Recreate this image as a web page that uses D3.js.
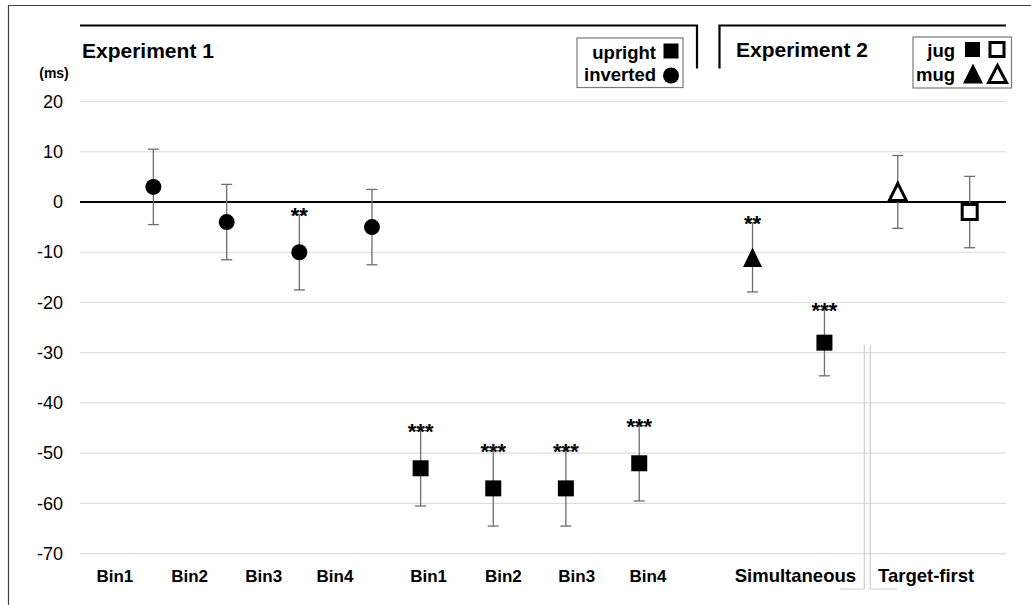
<!DOCTYPE html>
<html>
<head>
<meta charset="utf-8">
<script src="https://cdn.jsdelivr.net/npm/d3@7"></script>
<style>
  body { margin: 0; background: #fff; }
  svg { display: block; font-family: "Liberation Sans", Arial, sans-serif; }
</style>
</head>
<body>
<svg id="lienzo" width="1031" height="605"></svg>
<script>
// Datos (ms)
const yTicks = [20, 10, 0, -10, -20, -30, -40, -50, -60, -70];

// Experimento 1
const binLabels = ['Bin1', 'Bin2', 'Bin3', 'Bin4'];
const invertedX = [1.01, 2.02, 3.02, 4.02];
const invertedMean = [3, -4, -10, -5];
const invertedErr = [7.5, 7.5, 7.5, 7.5];
const invertedSig = ['', '', '**', ''];

const uprightX = [4.69, 5.69, 6.69, 7.70];
const uprightMean = [-53, -57, -57, -52];
const uprightErr = [7.5, 7.5, 7.5, 7.5];
const uprightSig = ['***', '***', '***', '***'];

const exp1LabelX = [0.48, 1.51, 2.53, 3.51, 4.80, 5.83, 6.84, 7.82];

// Experimento 2
const exp2Labels = ['Simultaneous', 'Target-first'];
const exp2LabelX = [9.85, 11.65];
const mugX = [9.26, 11.26];
const mugMean = [-11, 2];
const mugErr = [6.9, 7.25];
const mugSig = ['**', ''];
const jugX = [10.25, 12.25];
const jugMean = [-28, -2];
const jugErr = [6.6, 7.1];
const jugSig = ['***', ''];

const svg = d3.select('#lienzo');

const x = d3.scaleLinear().domain([0, 12.75]).range([80, 1006]);
const y = d3.scaleLinear().domain([-70, 20]).range([553.7, 101.5]);

// marco exterior (recortado a la derecha y abajo)
svg.append('path')
    .attr('d', 'M8.5,605 L8.5,5.5 L1031,5.5')
    .attr('fill', 'none')
    .attr('stroke', '#404040')
    .attr('stroke-width', 1.2);

// lineas de la cuadricula
svg.append('g')
    .selectAll('line')
    .data(yTicks.filter(d => d !== 0))
    .enter()
    .append('line')
    .attr('x1', x.range()[0])
    .attr('x2', x.range()[1])
    .attr('y1', d => y(d))
    .attr('y2', d => y(d))
    .attr('stroke', '#dcdcdc')
    .attr('stroke-width', 1.2);

// eje y con d3.axisLeft, sin linea de dominio
const yAxis = svg.append('g')
    .attr('transform', 'translate(80,0)')
    .call(d3.axisLeft(y).tickValues(yTicks).tickSize(0).tickPadding(17)
        .tickFormat(d => String(d))); // guion normal, como en el original
yAxis.select('.domain').remove();
yAxis.selectAll('text')
    .attr('font-family', '"Liberation Sans", Arial, sans-serif')
    .attr('font-size', '18px')
    .attr('fill', '#000');

svg.append('text')
    .attr('x', 54)
    .attr('y', 78)
    .attr('text-anchor', 'middle')
    .attr('font-size', '14px')
    .attr('font-weight', 'bold')
    .text('(ms)');

// linea del cero
svg.append('line')
    .attr('x1', x.range()[0])
    .attr('x2', x.range()[1])
    .attr('y1', y(0))
    .attr('y2', y(0))
    .attr('stroke', '#000')
    .attr('stroke-width', 2.2);

// lineas grises sueltas cerca de Target-first
const ghost = svg.append('g')
    .attr('fill', 'none')
    .attr('stroke', '#d0d0d0')
    .attr('stroke-width', 1.2);
ghost.append('path').attr('d', 'M840,589 L864.3,589 L864.3,345');
ghost.append('path').attr('d', 'M870.3,345 L870.3,589 L897,589');

// cabeceras de los experimentos
svg.append('path')
    .attr('d', `M${x.range()[0]},25.5 L697,25.5 L697,68.5`)
    .attr('fill', 'none')
    .attr('stroke', '#000')
    .attr('stroke-width', 2.2);
svg.append('path')
    .attr('d', `M719.5,68.5 L719.5,25.5 L${x.range()[1]},25.5`)
    .attr('fill', 'none')
    .attr('stroke', '#000')
    .attr('stroke-width', 2.2);

svg.append('text')
    .attr('x', 82)
    .attr('y', 58)
    .attr('font-size', '21px')
    .attr('font-weight', 'bold')
    .text('Experiment 1');
svg.append('text')
    .attr('x', 736)
    .attr('y', 57)
    .attr('font-size', '21px')
    .attr('font-weight', 'bold')
    .text('Experiment 2');

// etiquetas del eje x
svg.append('g')
    .selectAll('text')
    .data(exp1LabelX)
    .enter()
    .append('text')
    .attr('x', d => x(d))
    .attr('y', 582)
    .attr('text-anchor', 'middle')
    .attr('font-size', '17px')
    .attr('font-weight', 'bold')
    .text((d, i) => binLabels[i % 4]);

svg.append('g')
    .selectAll('text')
    .data(exp2LabelX)
    .enter()
    .append('text')
    .attr('x', d => x(d))
    .attr('y', 582)
    .attr('text-anchor', 'middle')
    .attr('font-size', '18.5px')
    .attr('font-weight', 'bold')
    .text((d, i) => exp2Labels[i]);

// formas de los marcadores
function squarePath(cx, cy, s) {
    const h = s / 2;
    return `M${cx - h},${cy - h}h${s}v${s}h${-s}Z`;
}
function trianglePath(cx, cy, w, hgt) {
    return `M${cx},${cy - hgt / 2}L${cx + w / 2},${cy + hgt / 2}L${cx - w / 2},${cy + hgt / 2}Z`;
}

function serie(xs, means, errs, sigs, marker) {
    const pts = xs.map((d, i) => ({ x: d, m: means[i], e: errs[i], s: sigs[i] }));
    const g = svg.append('g');

    // barras de error
    const eb = g.selectAll('g.eb')
        .data(pts)
        .enter()
        .append('g')
        .attr('stroke', '#6e6e6e')
        .attr('stroke-width', 1.3);
    eb.append('line')
        .attr('x1', d => x(d.x)).attr('x2', d => x(d.x))
        .attr('y1', d => y(d.m + d.e)).attr('y2', d => y(d.m - d.e));
    eb.append('line')
        .attr('x1', d => x(d.x) - 5.5).attr('x2', d => x(d.x) + 5.5)
        .attr('y1', d => y(d.m + d.e)).attr('y2', d => y(d.m + d.e));
    eb.append('line')
        .attr('x1', d => x(d.x) - 5.5).attr('x2', d => x(d.x) + 5.5)
        .attr('y1', d => y(d.m - d.e)).attr('y2', d => y(d.m - d.e));

    // asteriscos de significacion
    g.selectAll('text')
        .data(pts.filter(d => d.s))
        .enter()
        .append('text')
        .attr('x', d => x(d.x))
        .attr('y', d => y(d.m + d.e) + 8.5)
        .attr('text-anchor', 'middle')
        .attr('font-size', '22px')
        .attr('font-weight', 'bold')
        .text(d => d.s);

    // marcadores
    g.selectAll('path.mk')
        .data(pts)
        .enter()
        .append('path')
        .attr('class', 'mk')
        .attr('d', d => marker.path(x(d.x), y(d.m)))
        .attr('fill', marker.fill)
        .attr('stroke', '#000')
        .attr('stroke-width', marker.sw)
        .attr('stroke-linejoin', 'miter');
}

const circle = {
    path: (cx, cy) => `M${cx - 8},${cy}a8,8 0 1,0 16,0a8,8 0 1,0 -16,0Z`,
    fill: '#000', sw: 0
};
const filledSquare = { path: (cx, cy) => squarePath(cx, cy, 16), fill: '#000', sw: 0 };
const filledTriangle = { path: (cx, cy) => trianglePath(cx, cy, 19, 19.5), fill: '#000', sw: 0 };
const openSquare = { path: (cx, cy) => squarePath(cx, cy, 15), fill: '#fff', sw: 3 };
const openTriangle = { path: (cx, cy) => trianglePath(cx, cy, 17, 17), fill: '#fff', sw: 3 };

serie(invertedX, invertedMean, invertedErr, invertedSig, circle);
serie(uprightX, uprightMean, uprightErr, uprightSig, filledSquare);
serie(mugX.slice(0, 1), mugMean.slice(0, 1), mugErr.slice(0, 1), mugSig.slice(0, 1), filledTriangle);
serie(jugX.slice(0, 1), jugMean.slice(0, 1), jugErr.slice(0, 1), jugSig.slice(0, 1), filledSquare);
serie(mugX.slice(1), mugMean.slice(1), mugErr.slice(1), mugSig.slice(1), openTriangle);
serie(jugX.slice(1), jugMean.slice(1), jugErr.slice(1), jugSig.slice(1), openSquare);

// leyendas
function legendBox(x0, y0, w, h) {
    svg.append('rect')
        .attr('x', x0).attr('y', y0)
        .attr('width', w).attr('height', h)
        .attr('fill', '#fff')
        .attr('stroke', '#7a7a7a')
        .attr('stroke-width', 1.2);
}

legendBox(577, 38, 106, 49.5);
svg.append('text').attr('x', 656).attr('y', 58.5)
    .attr('text-anchor', 'end').attr('font-size', '18.5px').attr('font-weight', 'bold')
    .text('upright');
svg.append('path').attr('d', squarePath(671, 51, 15)).attr('fill', '#000');
svg.append('text').attr('x', 656).attr('y', 80.5)
    .attr('text-anchor', 'end').attr('font-size', '18.5px').attr('font-weight', 'bold')
    .text('inverted');
svg.append('path').attr('d', circle.path(671, 75.5)).attr('fill', '#000');

legendBox(913, 37, 98.5, 51);
svg.append('text').attr('x', 955).attr('y', 56.5)
    .attr('text-anchor', 'end').attr('font-size', '18.5px').attr('font-weight', 'bold')
    .text('jug');
svg.append('path').attr('d', squarePath(972.5, 49.5, 15)).attr('fill', '#000');
svg.append('path').attr('d', squarePath(997, 49.5, 14))
    .attr('fill', '#fff').attr('stroke', '#000').attr('stroke-width', 3);
svg.append('text').attr('x', 955).attr('y', 80.5)
    .attr('text-anchor', 'end').attr('font-size', '18.5px').attr('font-weight', 'bold')
    .text('mug');
svg.append('path').attr('d', trianglePath(973, 73.5, 20, 20)).attr('fill', '#000');
svg.append('path').attr('d', trianglePath(997.5, 74, 18, 17))
    .attr('fill', '#fff').attr('stroke', '#000').attr('stroke-width', 3);
</script>
</body>
</html>
